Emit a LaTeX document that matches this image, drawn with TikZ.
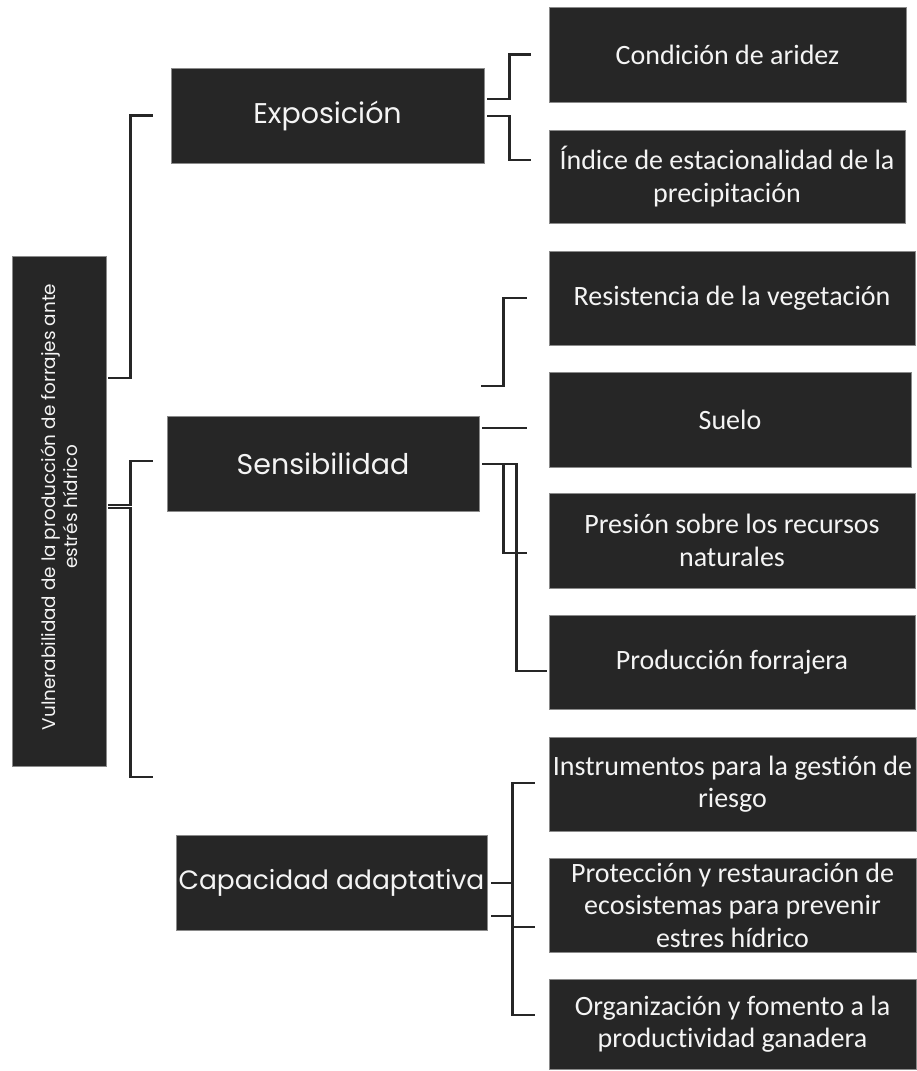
\documentclass[tikz,border=0pt]{standalone}
\usepackage{fontspec}
\usetikzlibrary{calc}
\newfontfamily\rfont{Carlito}[RawFeature={-liga;-clig;-dlig}]
\newfontfamily\lfont{Poppins}
\definecolor{boxfill}{HTML}{262626}
\definecolor{boxedge}{HTML}{8A8A8A}
\definecolor{txt}{HTML}{F4F4F4}
\definecolor{linec}{HTML}{262626}
\begin{document}
\begin{tikzpicture}[x=1pt,y=1pt,
  box/.style={draw=boxedge, line width=0.8pt, fill=boxfill, text=txt, inner sep=0pt, align=center},
  rbox/.style={box, font=\rfont\fontsize{28}{32.5}\selectfont},
  lbox/.style={box, font=\lfont\fontsize{28.5}{34}\selectfont},
  conn/.style={draw=linec, line width=2.2pt}]
\useasboundingbox (0,0) rectangle (916,-1071);
% root
\node[box, minimum width=94pt, minimum height=510pt] (root) at (59,-511) {};
\node[rotate=90, text=txt, align=center, font=\lfont\fontsize{18.4}{22}\selectfont] (roottext) at ($(root.center)+(0,4)$) {Vulnerabilidad de la producción de forrajes ante\\estrés hídrico};
% level 1
\node[lbox, minimum width=313pt, minimum height=95pt] (exp) at (327.5,-115.5) {Exposición};
\node[lbox, minimum width=312pt, minimum height=95pt] (sen) at (323,-463.5) {Sensibilidad};
\node[lbox, minimum width=311pt, minimum height=95pt, font=\lfont\fontsize{26.5}{32}\selectfont] (cap) at (331.5,-882.5) {Capacidad adaptativa};
% level 2
\node[rbox, minimum width=357pt, minimum height=95pt] (c1) at (727.5,-54.5) {Condición de aridez};
\node[rbox, minimum width=356pt, minimum height=93pt] (c2) at (727,-176.5) {Índice de estacionalidad de la\\precipitación};
\node[rbox, minimum width=366pt, minimum height=94pt] (c3) at (732,-298) {Resistencia de la vegetación};
\node[rbox, minimum width=362pt, minimum height=95pt] (c4) at (730,-419.5) {Suelo};
\node[rbox, minimum width=366pt, minimum height=95pt] (c5) at (732,-540.5) {Presión sobre los recursos\\naturales};
\node[rbox, minimum width=366pt, minimum height=94pt] (c6) at (732,-662) {Producción forrajera};
\node[rbox, minimum width=367pt, minimum height=94pt] (c7) at (732.5,-784) {Instrumentos para la gestión de\\riesgo};
\node[rbox, minimum width=367pt, minimum height=94pt] (c8) at (732.5,-905) {Protección y restauración de\\ecosistemas para prevenir\\estres hídrico};
\node[rbox, minimum width=367pt, minimum height=90pt] (c9) at (732.5,-1024) {Organización y fomento a la\\productividad ganadera};
% root connectors
\draw[conn] ($(root.east)+(2,133)$) -- ++(22,0) |- ([xshift=-18pt]exp.west);
\draw[conn] ($(root.east)+(2,6)$) -- ++(22,0) |- ([shift={(-14,2.5)}]sen.west);
\draw[conn] ($(root.east)+(2,3)$) -- ++(22,0) |- ([shift={(-23,105.5)}]cap.west);
% exposicion connectors
\draw[conn] ($(exp.east)+(3,16.5)$) -- ++(22,0) |- ([xshift=-18pt]c1.west);
\draw[conn] ($(exp.east)+(3,-0.5)$) -- ++(22,0) |- ([shift={(-18,16.5)}]c2.west);
% sensibilidad connectors
\draw[conn] ($(sen.east)+(2,77.5)$) -- ++(22,0) |- ([xshift=-22pt]c3.west);
\draw[conn] ($(sen.east)+(3,35.5)$) -- ([shift={(-22,-8.5)}]c4.west);
\draw[conn] ($(sen.east)+(3,-0.5)$) -- ++(21,0) |- ([shift={(-22,-12.5)}]c5.west);
\draw[conn] ($(sen.east)+(3,-0.5)$) -- ++(34,0) |- ([shift={(-2,-9)}]c6.west);
% capacidad connectors
\draw[conn] ($(cap.east)+(4,-0.5)$) -- ++(21,0) |- ([shift={(-14,1)}]c7.west);
\draw[conn] ($(cap.east)+(4,-0.5)$) -- ++(21,0) |- ([shift={(-14,-22)}]c8.west);
\draw[conn] ($(cap.east)+(4,-33.5)$) -- ++(21,0) |- ([shift={(-14,9)}]c9.west);
\end{tikzpicture}
\end{document}
